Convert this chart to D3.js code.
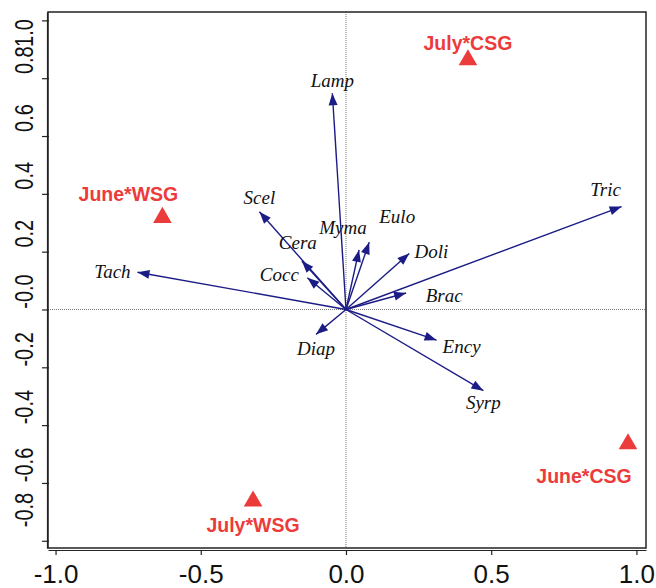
<!DOCTYPE html>
<html>
<head>
<meta charset="utf-8">
<script src="https://cdn.jsdelivr.net/npm/d3@7"></script>
<style>
body { margin: 0; background: #fff; }
</style>
</head>
<body>
<div id="chart"></div>
<script>
// species arrows (biplot scores)
var species = ["Lamp", "Tric", "Scel", "Cera", "Cocc", "Tach", "Diap", "Brac", "Ency", "Syrp", "Myma", "Eulo", "Doli"];
var speciesX = [-0.047, 0.949, -0.298, -0.152, -0.133, -0.718, -0.103, 0.207, 0.312, 0.473, 0.045, 0.080, 0.218];
var speciesY = [0.748, 0.356, 0.338, 0.168, 0.110, 0.129, -0.086, 0.057, -0.106, -0.281, 0.206, 0.233, 0.194];

// month * grassland centroids
var sites = ["July*CSG", "June*WSG", "June*CSG", "July*WSG"];
var siteX = [0.42, -0.632, 0.971, -0.32];
var siteY = [0.863, 0.318, -0.465, -0.663];

var xTicks = [-1.0, -0.5, 0.0, 0.5, 1.0];
var xTickLabels = ["-1.0", "-0.5", "0.0", "0.5", "1.0"];
var yTicks = [1.0, 0.8, 0.6, 0.4, 0.2, 0.0, -0.2, -0.4, -0.6, -0.8];
var yTickLabels = ["1.0", "0.8", "0.6", "0.4", "0.2", "-0.0", "-0.2", "-0.4", "-0.6", "-0.8"];

var width = 656, height = 588;
var mLeft = 48, mRight = 646, mTop = 12, mBottom = 548;

var x = d3.scaleLinear().domain([-1.026, 1.033]).range([mLeft, mRight]);
var y = d3.scaleLinear().domain([-0.825, 1.029]).range([mBottom, mTop]);

// label placement in px relative to the arrow tip / triangle
var spOff = {
    Lamp: [0, -13], Tric: [-16, -17], Scel: [0, -14], Cera: [-4, -18], Cocc: [-28, -3],
    Tach: [-25, 0], Diap: [0, 14], Brac: [38, 3], Ency: [25, 7], Syrp: [0, 12],
    Myma: [-16, -22], Eulo: [28, -25], Doli: [22, -2]
};
var siteOff = {
    "July*CSG": [0, -17], "June*WSG": [-34, -24], "June*CSG": [-44, 32], "July*WSG": [0, 24]
};

var navy = "#1c1c86", red = "#ec3b3b";

var svg = d3.select("#chart").append("svg")
    .attr("width", width)
    .attr("height", height)
    .style("display", "block");

// dotted zero lines
svg.append("line")
    .attr("x1", x(0)).attr("x2", x(0))
    .attr("y1", mTop).attr("y2", mBottom)
    .attr("stroke", "#777").attr("stroke-width", 1).attr("stroke-dasharray", "1,1");
svg.append("line")
    .attr("x1", mLeft).attr("x2", mRight)
    .attr("y1", y(0)).attr("y2", y(0))
    .attr("stroke", "#777").attr("stroke-width", 1).attr("stroke-dasharray", "1,1");

// box
svg.append("rect")
    .attr("x", mLeft).attr("y", mTop)
    .attr("width", mRight - mLeft).attr("height", mBottom - mTop)
    .attr("fill", "none").attr("stroke", "#222").attr("stroke-width", 1.5);

// x axis
var xAxis = svg.append("g")
    .attr("transform", "translate(0," + (mBottom + 2) + ")")
    .call(d3.axisBottom(x).tickValues(xTicks).tickSize(5).tickSizeOuter(0)
        .tickFormat(function(d, i) { return xTickLabels[i]; }));
xAxis.select(".domain").attr("stroke", "#222").attr("stroke-width", 1.2);
xAxis.selectAll(".tick line").attr("stroke", "#222").attr("stroke-width", 1.2);
xAxis.selectAll("text")
    .attr("font-family", "Liberation Sans, Arial, sans-serif")
    .attr("font-size", "26px")
    .attr("fill", "#111")
    .attr("dy", null)
    .attr("y", 33);

// y axis
var yAxis = svg.append("g")
    .attr("transform", "translate(" + (mLeft - 1) + ",0)")
    .call(d3.axisLeft(y).tickValues(yTicks).tickSize(5).tickSizeOuter(0)
        .tickFormat(""));
yAxis.select(".domain").attr("stroke", "#222").attr("stroke-width", 1.2);
yAxis.selectAll(".tick line").attr("stroke", "#222").attr("stroke-width", 1.2)
    .attr("x2", -5).attr("x1", 2);

// rotated y labels, squeezed like the original
svg.append("g").selectAll("text")
    .data(yTicks)
    .enter()
    .append("text")
    .attr("transform", function(d) {
        var cy = Math.max(33, Math.min(510, y(d) - 18));
        return "translate(33," + cy + ") rotate(-90) scale(0.8,1)";
    })
    .attr("text-anchor", "middle")
    .attr("font-family", "Liberation Sans, Arial, sans-serif")
    .attr("font-size", "25px")
    .attr("fill", "#111")
    .text(function(d, i) { return yTickLabels[i]; });

// species arrows
var spData = species.map(function(s, i) { return { name: s, vx: speciesX[i], vy: speciesY[i] }; });

var arrows = svg.append("g");
arrows.selectAll("line")
    .data(spData)
    .enter()
    .append("line")
    .attr("x1", x(0)).attr("y1", y(0))
    .attr("x2", function(d) { return x(d.vx); })
    .attr("y2", function(d) { return y(d.vy); })
    .attr("stroke", navy)
    .attr("stroke-width", 1.4);

// arrow heads
arrows.selectAll("path")
    .data(spData)
    .enter()
    .append("path")
    .attr("d", function(d) {
        var x0 = x(0), y0 = y(0), x1 = x(d.vx), y1 = y(d.vy);
        var a = Math.atan2(y1 - y0, x1 - x0);
        var len = 12, hw = 4.5;
        var bx = x1 - len * Math.cos(a), by = y1 - len * Math.sin(a);
        var px = -Math.sin(a) * hw, py = Math.cos(a) * hw;
        return "M" + x1 + "," + y1 + "L" + (bx + px) + "," + (by + py) +
            "L" + (bx - px) + "," + (by - py) + "Z";
    })
    .attr("fill", navy);

svg.append("g").selectAll("text")
    .data(spData)
    .enter()
    .append("text")
    .attr("x", function(d) { return x(d.vx) + spOff[d.name][0]; })
    .attr("y", function(d) { return y(d.vy) + spOff[d.name][1]; })
    .attr("dy", "0.33em")
    .attr("text-anchor", "middle")
    .attr("font-family", "Liberation Serif, Times New Roman, serif")
    .attr("font-style", "italic")
    .attr("font-size", "19px")
    .attr("fill", "#111")
    .text(function(d) { return d.name; });

// sites
var siteData = sites.map(function(s, i) { return { name: s, vx: siteX[i], vy: siteY[i] }; });

svg.append("g").selectAll("path")
    .data(siteData)
    .enter()
    .append("path")
    .attr("d", d3.symbol().type(d3.symbolTriangle).size(150))
    .attr("transform", function(d) { return "translate(" + x(d.vx) + "," + y(d.vy) + ")"; })
    .attr("fill", red);

svg.append("g").selectAll("text")
    .data(siteData)
    .enter()
    .append("text")
    .attr("x", function(d) { return x(d.vx) + siteOff[d.name][0]; })
    .attr("y", function(d) { return y(d.vy) + siteOff[d.name][1]; })
    .attr("dy", "0.36em")
    .attr("text-anchor", "middle")
    .attr("font-family", "Liberation Sans, Arial, sans-serif")
    .attr("font-weight", "bold")
    .attr("font-size", "19.5px")
    .attr("fill", red)
    .text(function(d) { return d.name; });
</script>
</body>
</html>
